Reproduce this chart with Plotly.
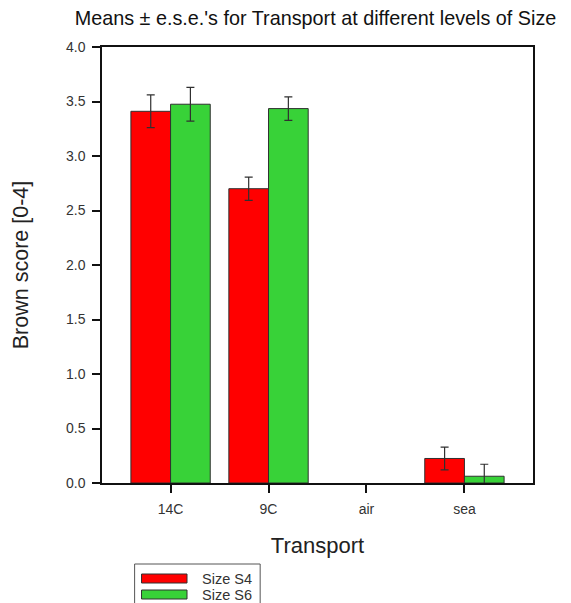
import plotly.graph_objects as go

categories = ["14C", "9C", "air", "sea"]
s4_means = [3.41, 2.70, None, 0.225]
s4_err = [0.15, 0.107, None, 0.104]
s6_means = [3.475, 3.435, None, 0.062]
s6_err = [0.155, 0.108, None, 0.11]
series_names = ["Size S4", "Size S6"]
y_ticks = [0.0, 0.5, 1.0, 1.5, 2.0, 2.5, 3.0, 3.5, 4.0]

RED = "#FF0000"
GREEN = "#38D238"
font_fam = "Liberation Sans, Arial, sans-serif"

# page body has an 8px margin; figure sized to fit the 571x603 window
W, H = 563, 595
ML, MR, MT, MB = 89, 38, 39, 120

fig = go.Figure()
for name, vals, errs, col in [(series_names[0], s4_means, s4_err, RED),
                              (series_names[1], s6_means, s6_err, GREEN)]:
    fig.add_trace(go.Bar(
        x=categories, y=vals, name=name,
        marker=dict(color=col, line=dict(color="#303030", width=1)),
        error_y=dict(type="data", array=errs, visible=True,
                     color="#303030", thickness=1.2, width=4),
        showlegend=False,
    ))

pw = W - ML - MR
ph = H - MT - MB

fig.update_layout(
    width=W, height=H,
    margin=dict(l=ML, r=MR, t=MT, b=MB),
    paper_bgcolor="white", plot_bgcolor="white",
    barmode="group", bargap=0.19, bargroupgap=0,
    font=dict(family=font_fam, color="#222"),
    title=dict(text="Means \u00b1 e.s.e.'s for Transport at different levels of Size",
               x=(305 - ML) / pw, xref="paper", xanchor="center", y=1 - 10/H, yanchor="middle",
               font=dict(size=19.8, color="#111")),
    xaxis=dict(
        type="category", range=[-0.7, 3.7],
        showline=True, linecolor="#111", linewidth=1.5, mirror=True,
        ticks="outside", ticklen=8, tickcolor="#111", tickwidth=1.5,
        ticklabelstandoff=4,
        showgrid=False, zeroline=False,
        tickfont=dict(size=14, color="#333"),
        title=dict(text="Transport", font=dict(size=22, color="#222"), standoff=22),
    ),
    yaxis=dict(
        range=[0, 4], tickvals=y_ticks, ticktext=[f"{v:.1f}" for v in y_ticks],
        showline=True, linecolor="#111", linewidth=1.5, mirror=True,
        ticks="outside", ticklen=8, tickcolor="#111", tickwidth=1.5,
        ticklabelstandoff=4,
        showgrid=False, zeroline=False,
        tickfont=dict(size=14, color="#333"),
        title=dict(text="Brown score [0-4]", font=dict(size=21.5, color="#222"), standoff=31),
    ),
)

# Manual legend (wide swatches as in the original)
def px(x):
    return (x - ML) / pw
def py(y):
    return (H - MB - y) / ph

fig.add_shape(type="rect", xref="paper", yref="paper",
              x0=px(122), x1=px(249), y0=py(605), y1=py(556),
              line=dict(color="#555", width=1), fillcolor="white")
for i, (name, col) in enumerate(zip(series_names, [RED, GREEN])):
    yc = 570.5 + i * 16
    fig.add_shape(type="rect", xref="paper", yref="paper",
                  x0=px(129), x1=px(175), y0=py(yc + 4.5), y1=py(yc - 4.5),
                  line=dict(color="#303030", width=1), fillcolor=col)
    fig.add_annotation(xref="paper", yref="paper", x=px(188), y=py(yc),
                       text=name, showarrow=False, xanchor="left", yanchor="middle",
                       font=dict(size=14.5, color="#333"))

fig.write_html("out.html")
